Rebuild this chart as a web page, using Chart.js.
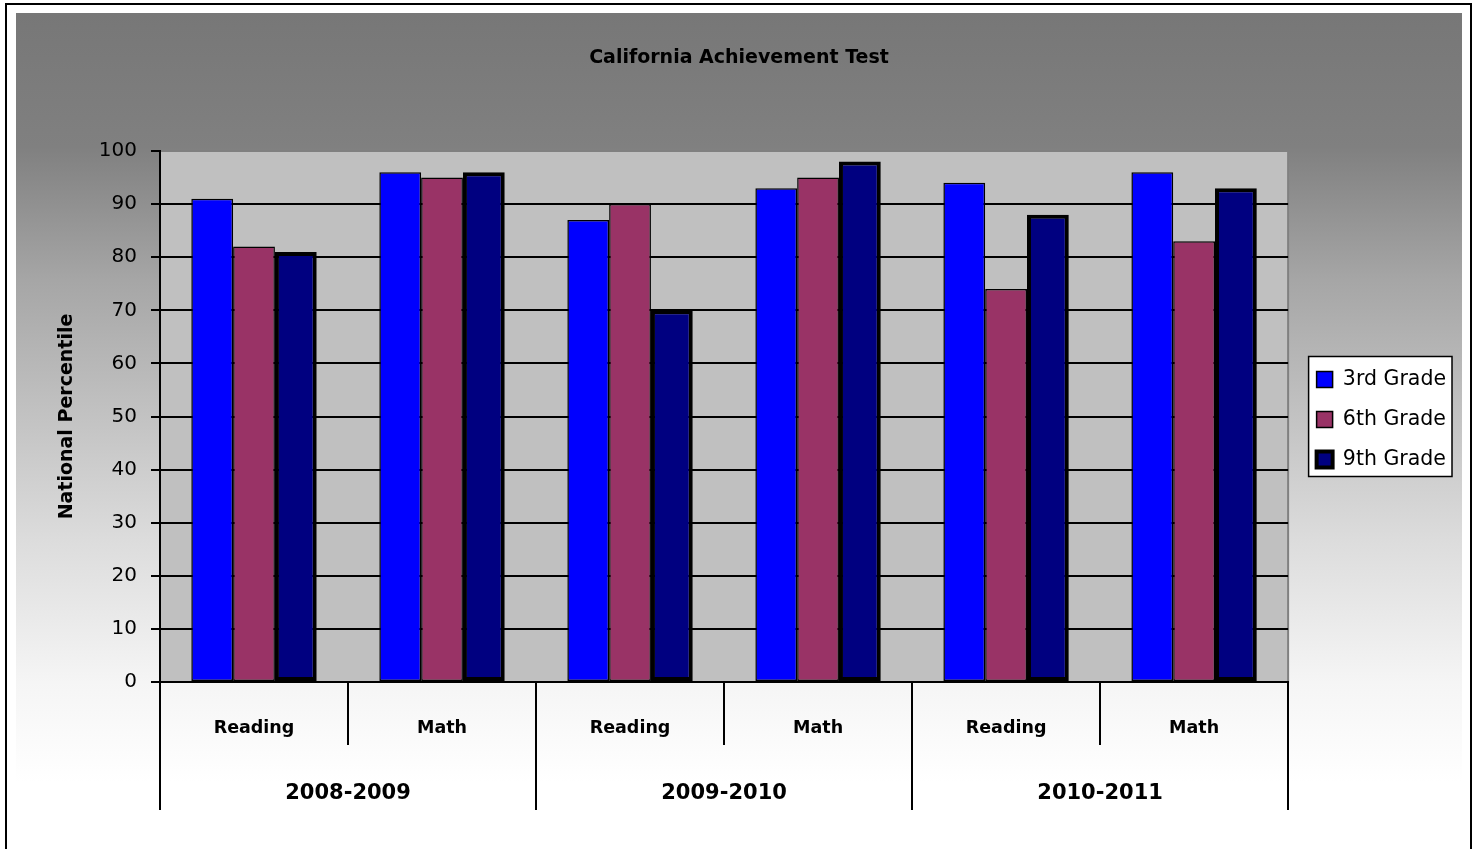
<!DOCTYPE html>
<html>
<head>
<meta charset="utf-8">
<title>California Achievement Test</title>
<script src="https://cdn.jsdelivr.net/npm/chart.js@4.4.0/dist/chart.umd.min.js"></script>
<style>
  html, body { margin: 0; padding: 0; background: #fff; width: 1478px; height: 849px; overflow: hidden; }
  #frame { position: absolute; left: 5px; top: 3px; width: 1463px; height: 870px; border: 2px solid #000; }
  #fill {
    position: absolute; left: 16px; top: 13px; width: 1446px; height: 836px;
    background: linear-gradient(#777777 0%, #808080 16%, #a6a6a6 32%, #dcdcdc 63%, #f5f5f5 80%, #ffffff 92%);
  }
  #wrap { position: absolute; left: 0; top: 0; width: 1478px; height: 849px; }
</style>
</head>
<body>
<div id="frame"></div>
<div id="fill"></div>
<div id="wrap"><canvas id="chart"></canvas></div>
<script>
// data
const subjects = ['Reading', 'Math', 'Reading', 'Math', 'Reading', 'Math'];
const years = ['2008-2009', '2009-2010', '2010-2011'];
const grade3 = [91, 96, 87, 93, 94, 96];
const grade6 = [82, 95, 90, 95, 74, 83];
const grade9 = [81, 96, 70, 98, 88, 93];
const yMin = 0, yMax = 100, yStep = 10;

const FONT = '"Comic Sans MS", "DejaVu Sans", sans-serif';
const LEGEND_SHIFT_X = 9;
const LEGEND_SHIFT_Y = 3;

// grey plot area + white legend frame
const backdrop = {
  id: 'backdrop',
  afterLayout(chart) {
    // nudge legend a little, like the original
    const lg = chart.legend;
    lg.left += LEGEND_SHIFT_X;
    lg.right += LEGEND_SHIFT_X;
    lg.top += LEGEND_SHIFT_Y;
    lg.bottom += LEGEND_SHIFT_Y;
  },
  beforeDraw(chart) {
    const { ctx, chartArea: a } = chart;
    ctx.save();
    ctx.fillStyle = '#c0c0c0';
    ctx.fillRect(a.left, a.top, a.width, a.height);
    ctx.strokeStyle = '#808080';
    ctx.lineWidth = 2;
    ctx.strokeRect(a.left, a.top, a.width, a.height);

    const hb = chart.legend.legendHitBoxes;
    if (hb && hb.length) {
      const left = Math.min(...hb.map(b => b.left)) - 8;
      const right = Math.max(...hb.map(b => b.left + b.width)) + 6;
      const top = hb[0].top + hb[0].height / 2 - 23;
      const last = hb[hb.length - 1];
      const bottom = last.top + last.height / 2 + 17;
      ctx.fillStyle = '#fff';
      ctx.fillRect(left, top, right - left, bottom - top);
      ctx.strokeStyle = '#000';
      ctx.lineWidth = 1.5;
      ctx.strokeRect(left, top, right - left, bottom - top);
    }
    ctx.restore();
  }
};

new Chart(document.getElementById('chart'), {
  type: 'bar',
  data: {
    labels: subjects,
    datasets: [
      { label: '3rd Grade', data: grade3, backgroundColor: '#0000ff', borderColor: '#000', borderWidth: 1.5, borderSkipped: false },
      { label: '6th Grade', data: grade6, backgroundColor: '#993366', borderColor: '#000', borderWidth: 1.5, borderSkipped: false },
      { label: '9th Grade', data: grade9, backgroundColor: '#000080', borderColor: '#000', borderWidth: 4, borderSkipped: false }
    ]
  },
  options: {
    responsive: true,
    maintainAspectRatio: false,
    animation: false,
    categoryPercentage: 0.667,
    barPercentage: 1,
    layout: { padding: { left: 31, top: 20, right: 31, bottom: 39 } },
    plugins: {
      title: {
        display: true,
        text: 'California Achievement Test',
        color: '#000',
        font: { family: FONT, size: 19, weight: 'bold' },
        padding: { top: 26.6, bottom: 81.6 }
      },
      legend: {
        position: 'right',
        fullSize: false,
        labels: {
          color: '#000',
          font: { family: FONT, size: 20.5 },
          boxWidth: 16,
          boxHeight: 16,
          padding: 19.5
        }
      },
      tooltip: { enabled: false }
    },
    scales: {
      y: {
        min: yMin,
        max: yMax,
        ticks: { stepSize: yStep, color: '#000', font: { family: FONT, size: 20 }, padding: 14 },
        grid: {
          color: c => (c.tick && c.tick.value === yMax ? '#808080' : '#000'),
          tickColor: '#000',
          lineWidth: 2,
          tickLength: 9
        },
        border: { display: true, color: '#000', width: 2 },
        title: {
          display: true,
          text: 'National Percentile',
          color: '#000',
          font: { family: FONT, size: 19, weight: 'bold' },
          padding: { top: 25, bottom: 0 }
        },
        afterFit(s) { s.width = 129; }
      },
      x: {
        offset: true,
        grid: { display: true, drawOnChartArea: false, offset: true, tickLength: 63, color: '#000', lineWidth: 2 },
        border: { display: true, color: '#000', width: 2 },
        ticks: { color: '#000', font: { family: FONT, size: 17.5, weight: 'bold' }, padding: -27, maxRotation: 0, autoSkip: false },
        afterFit(s) { s.height = 63; }
      },
      x2: {
        type: 'category',
        labels: years,
        position: 'bottom',
        offset: true,
        grid: { display: true, drawOnChartArea: false, offset: true, tickLength: 65, color: '#000', lineWidth: 2 },
        border: { display: false },
        ticks: { color: '#000', font: { family: FONT, size: 21, weight: 'bold' }, padding: -29, maxRotation: 0, autoSkip: false },
        afterFit(s) { s.height = 65; }
      }
    }
  },
  plugins: [backdrop]
});
</script>
</body>
</html>
